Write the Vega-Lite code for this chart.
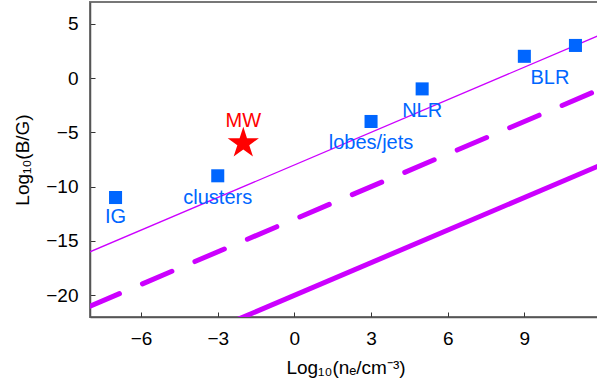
{
  "$schema": "https://vega.github.io/schema/vega-lite/v6.json",
  "width": 511,
  "height": 315,
  "autosize": "none",
  "padding": {"left": 90, "top": 2, "right": 0, "bottom": 70},
  "config": {
    "font": "Liberation Sans",
    "view": {"stroke": "#777777", "strokeWidth": 2},
    "axis": {
      "grid": false,
      "domainColor": "#555555",
      "domainWidth": 1.5,
      "tickColor": "#333333",
      "tickSize": -5,
      "labelFontSize": 19,
      "labelColor": "#000000",
      "titleFontSize": 19,
      "titleFontWeight": "normal",
      "titleColor": "#000000"
    }
  },
  "layer": [
    {
      "data": {"values": [{"x": -8, "y": -16}, {"x": 12, "y": 4}]},
      "mark": {"type": "line", "color": "#cc00ff", "strokeWidth": 1.3, "clip": true},
      "encoding": {
        "x": {"field": "x", "type": "quantitative", "scale": {"domain": [-8, 12], "nice": false, "zero": false},
              "axis": {"values": [-6, -3, 0, 3, 6, 9], "title": "Log₁₀(nₑ/cm⁻³)", "labelPadding": 17, "titlePadding": 10}},
        "y": {"field": "y", "type": "quantitative", "scale": {"domain": [-22, 7], "nice": false, "zero": false},
              "axis": {"values": [-20, -15, -10, -5, 0, 5], "title": "Log₁₀(B/G)", "labelPadding": 17, "titlePadding": 13}}
      }
    },
    {
      "data": {"values": [{"x": -8, "y": -21}, {"x": 12, "y": -1}]},
      "mark": {"type": "line", "color": "#cc00ff", "strokeWidth": 5, "strokeDash": [32, 25], "strokeCap": "round", "clip": true},
      "encoding": {
        "x": {"field": "x", "type": "quantitative"},
        "y": {"field": "y", "type": "quantitative"}
      }
    },
    {
      "data": {"values": [{"x": -8, "y": -28}, {"x": 12, "y": -8}]},
      "mark": {"type": "line", "color": "#cc00ff", "strokeWidth": 5, "clip": true},
      "encoding": {
        "x": {"field": "x", "type": "quantitative"},
        "y": {"field": "y", "type": "quantitative"}
      }
    },
    {
      "data": {"values": [
        {"name": "IG", "x": -7, "y": -11},
        {"name": "clusters", "x": -3, "y": -9},
        {"name": "lobes/jets", "x": 3, "y": -4},
        {"name": "NLR", "x": 5, "y": -1},
        {"name": "BLR", "x": 9, "y": 2},
        {"name": "other", "x": 11, "y": 3}
      ]},
      "mark": {"type": "point", "shape": "square", "filled": true, "color": "#0066ff", "size": 170, "opacity": 1},
      "encoding": {
        "x": {"field": "x", "type": "quantitative"},
        "y": {"field": "y", "type": "quantitative"}
      }
    },
    {
      "data": {"values": [{"name": "MW", "x": -2, "y": -6}]},
      "mark": {"type": "point", "shape": "M0,-1L0.225,-0.309L0.951,-0.309L0.363,0.118L0.588,0.809L0,0.382L-0.588,0.809L-0.363,0.118L-0.951,-0.309L-0.225,-0.309Z", "filled": true, "color": "#ff0000", "size": 1080, "opacity": 1},
      "encoding": {
        "x": {"field": "x", "type": "quantitative"},
        "y": {"field": "y", "type": "quantitative"}
      }
    },
    {
      "data": {"values": [
        {"label": "IG", "x": -7, "y": -12.8, "kind": "region"},
        {"label": "clusters", "x": -3, "y": -11, "kind": "region"},
        {"label": "MW", "x": -2, "y": -4, "kind": "galaxy"},
        {"label": "lobes/jets", "x": 3, "y": -6, "kind": "region"},
        {"label": "NLR", "x": 5, "y": -3, "kind": "region"},
        {"label": "BLR", "x": 10, "y": 0, "kind": "region"}
      ]},
      "mark": {"type": "text", "fontSize": 20, "baseline": "middle", "align": "center"},
      "encoding": {
        "x": {"field": "x", "type": "quantitative"},
        "y": {"field": "y", "type": "quantitative"},
        "text": {"field": "label"},
        "color": {"field": "kind", "type": "nominal", "scale": {"domain": ["region", "galaxy"], "range": ["#0066ff", "#ff0000"]}, "legend": null}
      }
    }
  ]
}
